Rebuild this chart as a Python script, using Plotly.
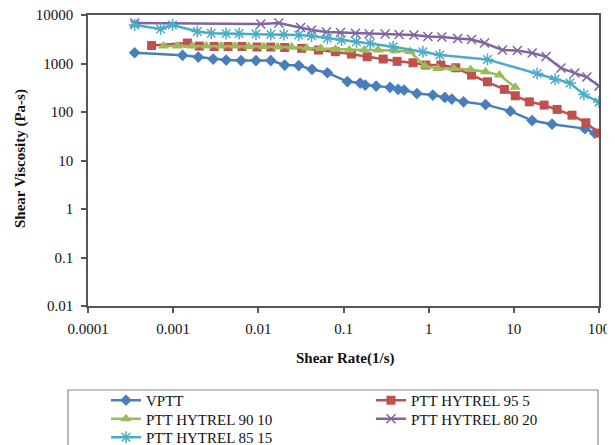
import plotly.graph_objects as go

# ---------------- data ----------------
vptt_x = [3.53e-4, 1.29e-3, 1.97e-3, 2.95e-3, 4.19e-3, 6.27e-3, 9.38e-3, 0.0140, 0.0204, 0.0298,
          0.0427, 0.0648, 0.111, 0.157, 0.180, 0.242, 0.352, 0.438, 0.514, 0.728,
          1.12, 1.55, 1.87, 2.57, 4.65, 9.1, 16.4, 28.1, 68.3, 89.4]
vptt_y = [1667, 1472, 1359, 1236, 1178, 1150, 1150, 1150, 929, 908,
          757, 644, 424, 395, 359, 343, 322, 293, 283, 240,
          223, 200, 185, 162, 142, 104, 66.5, 56, 45.4, 36.6]

h95_x = [5.58e-4, 1.47e-3, 2.03e-3, 3.03e-3, 4.41e-3, 6.44e-3, 9.64e-3, 0.0140, 0.0204, 0.0323,
         0.0509, 0.0803, 0.124, 0.190, 0.292, 0.426, 0.655, 0.927, 1.39, 2.08,
         3.19, 4.91, 7.74, 10.4, 15.2, 22.7, 32.2, 48.2, 70.2, 100]
h95_y = [2346, 2642, 2291, 2239, 2239, 2239, 2187, 2187, 2135, 2055,
         1895, 1749, 1567, 1378, 1236, 1108, 1036, 929, 929, 817,
         578, 420, 293, 216, 162, 139, 113, 86, 60, 36.7]

h90_x = [7.71e-4, 1.12e-3, 1.68e-3, 2.45e-3, 3.67e-3, 5.33e-3, 7.76e-3, 0.0116, 0.0169, 0.0247,
         0.0369, 0.0537, 0.0803, 0.117, 0.175, 0.255, 0.404, 0.604, 0.904, 1.28,
         1.97, 3.10, 4.65, 6.78, 10.4]
h90_y = [2291, 2291, 2291, 2291, 2291, 2291, 2239, 2239, 2187, 2187,
         2084, 2035, 1960, 1895, 1895, 1895, 1834, 1765, 886, 787,
         787, 750, 676, 578, 322]

h80_x = [3.53e-4, 0.0107, 0.0174, 0.0314, 0.0422, 0.0631, 0.0921, 0.138, 0.200, 0.308,
         0.449, 0.671, 0.979, 1.43, 2.19, 3.19, 4.53, 7.34, 11.0, 16.4,
         23.9, 35.8, 52.2, 72.1, 100]
h80_y = [6838, 6519, 6838, 5521, 4900, 4460, 4360, 4191, 4055, 4055,
         3960, 3866, 3600, 3516, 3273, 3120, 2642, 1895, 1850, 1643,
         1391, 805, 635, 525, 342]

h85_x = [3.53e-4, 7.11e-4, 9.82e-4, 1.92e-3, 2.80e-3, 4.19e-3, 5.94e-3, 9.38e-3, 0.0140, 0.0199,
         0.0298, 0.0422, 0.0648, 0.0947, 0.142, 0.206, 0.382, 0.855, 1.35, 4.91,
         18.8, 30.5, 45.6, 66.5, 100]
h85_y = [6223, 5143, 6223, 4565, 4191, 4150, 4150, 4055, 3960, 3960,
         3866, 3686, 3306, 3048, 2811, 2605, 2217, 1749, 1494, 1207,
         621, 471, 395, 229, 160]

series_names = ["VPTT", "PTT HYTREL 95 5", "PTT HYTREL 90 10", "PTT HYTREL 80 20", "PTT HYTREL 85 15"]

x_tickvals = [1e-4, 1e-3, 1e-2, 1e-1, 1, 10, 100]
x_ticktext = ["0.0001", "0.001", "0.01", "0.1", "1", "10", "100"]
y_tickvals = [0.01, 0.1, 1, 10, 100, 1000, 10000]
y_ticktext = ["0.01", "0.1", "1", "10", "100", "1000", "10000"]

# ---------------- figure ----------------
FONT = "Liberation Serif, Times New Roman, serif"
styles = [
    dict(color="#4A7EBB", symbol="diamond", size=9, lw=0, legend="legend"),
    dict(color="#C0504D", symbol="square", size=9, lw=0, legend="legend"),
    dict(color="#9BBB59", symbol="triangle-up", size=10, lw=0, legend="legend2"),
    dict(color="#8064A2", symbol="x-thin-open", size=9, lw=1.5, legend="legend2"),
    dict(color="#4BACC6", symbol="asterisk-open", size=10, lw=1.5, legend="legend3"),
]
xs = [vptt_x, h95_x, h90_x, h80_x, h85_x]
ys = [vptt_y, h95_y, h90_y, h80_y, h85_y]

fig = go.Figure()
for name, x, y, st in zip(series_names, xs, ys, styles):
    fig.add_trace(go.Scatter(
        x=x, y=y, name=name, mode="lines+markers", legend=st["legend"],
        line=dict(color=st["color"], width=2.5),
        marker=dict(symbol=st["symbol"], size=st["size"], color=st["color"],
                    line=dict(color=st["color"], width=st["lw"])),
    ))

# the page adds an 8px body margin, so every reference pixel position p
# maps to p - 8 inside the figure; the visible area ends near x = 600
OFF = 8
W, H = 615 - OFF, 445 - OFF
L, T, B = 88 - OFF, 15 - OFF, 139
R = W - (599 - OFF)
pw, ph = W - L - R, H - T - B

def px_x(p):  # reference screen x -> paper
    return (p - OFF - L) / pw

def px_y(p):  # reference screen y -> paper
    return (H - B - (p - OFF)) / ph

def legend_row(text_center_px):
    return dict(
        orientation="h", x=px_x(79), xanchor="left", y=px_y(text_center_px - 15), yanchor="top",
        entrywidth=193, entrywidthmode="pixels", indentation=27,
        bgcolor="rgba(0,0,0,0)", borderwidth=0, itemwidth=30,
        font=dict(family=FONT, size=15, color="#111"),
    )

fig.update_layout(
    width=W, height=H,
    margin=dict(l=L, r=R, t=T, b=B, pad=0, autoexpand=False),
    paper_bgcolor="white", plot_bgcolor="white",
    font=dict(family=FONT, size=15, color="#111"),
    showlegend=True,
    legend=legend_row(399),
    legend2=legend_row(417.5),
    legend3=legend_row(436),
    xaxis=dict(
        type="log", range=[-4, 2], tickmode="array", tickvals=x_tickvals, ticktext=x_ticktext,
        showgrid=False, zeroline=False, showline=True, linecolor="#555", linewidth=1.5,
        mirror=True, ticks="outside", ticklen=5, tickcolor="#555", tickwidth=1.5,
        ticklabelstandoff=3, ticklabeloverflow="allow",
        tickfont=dict(family=FONT, size=15, color="#111"),
    ),
    yaxis=dict(
        type="log", range=[-2, 4], tickmode="array", tickvals=y_tickvals, ticktext=y_ticktext,
        showgrid=False, zeroline=False, showline=True, linecolor="#555", linewidth=1.5,
        mirror=True, ticks="outside", ticklen=5, tickcolor="#555", tickwidth=1.5,
        ticklabelstandoff=5, ticklabeloverflow="allow",
        tickfont=dict(family=FONT, size=15, color="#111"),
    ),
    shapes=[dict(
        type="rect", xref="paper", yref="paper", layer="below",
        x0=px_x(68), x1=px_x(598), y0=px_y(390), y1=px_y(470),
        line=dict(color="#888", width=1.2), fillcolor="white",
    )],
    annotations=[
        dict(text="<b>Shear Viscosity (Pa-s)</b>", xref="paper", yref="paper",
             x=px_x(20), y=px_y(159), xanchor="center", yanchor="middle",
             textangle=-90, showarrow=False, font=dict(family=FONT, size=15, color="#111")),
        dict(text="<b>Shear Rate(1/s)</b>", xref="paper", yref="paper",
             x=px_x(345), y=px_y(358), xanchor="center", yanchor="middle",
             showarrow=False, font=dict(family=FONT, size=15, color="#111")),
    ],
)

fig.write_html("out.html")
